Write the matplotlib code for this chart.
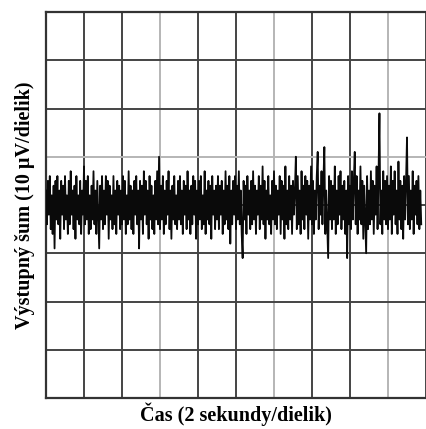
import numpy as np
import matplotlib
matplotlib.use("Agg")
import matplotlib.pyplot as plt

# output noise, microvolts (10 uV per division), sampled every 0.05 s
noise_uv = [
    3, -4, 5, -2, 6, -5, 2, -6, 4, -9, 5, -3, 6, -4, 3, -7, 5, -2, 4, -5,
    6, -3, 2, -6, 5, -4, 7, -2, 3, -5, 4, -7, 6, -3, 2, -4, 5, -6, 3, -2,
    8, -4, 5, -3, 6, -6, 2, -5, 4, -3, 7, -4, 3, -6, 5, -2, -9, 4, -3, 6,
    -5, 3, -4, 6, -2, 5, -7, 4, -3, 2, -5, 6, -4, 3, -6, 5, -2, 4, -5, 3,
    -4, 6, -3, 5, -6, 2, -4, 7, -3, 4, -5, 3, -6, 5, -2, 6, -4, 3, -9, 5,
    -3, 4, -6, 7, -2, 5, -4, 3, -7, 6, -3, 4, -5, 2, -6, 5, -3, 7, -4, 10,
    -5, 4, -3, 6, -6, 3, -4, 5, -2, 7, -5, 3, -7, 4, -3, 6, -4, 2, -5, 5,
    -3, 6, -4, 3, -6, 5, -2, 4, -5, 7, -3, 3, -6, 4, -4, 6, -2, 5, -7, 3,
    -4, 5, -3, 6, -5, 2, -4, 7, -6, 3, -3, 5, -4, 4, -7, 6, -2, 3, -5, 4,
    -3, 6, -5, 4, -2, 5, -6, 3, -4, 7, -3, 4, -5, 6, -8, 3, -4, 5, -2, 6,
    -5, 4, -3, 7, -4, 3, -6, -11, 5, -3, 4, -6, 6, -2, 3, -5, 5, -4, 7, -3,
    4, -6, 3, -2, 6, -5, 4, -3, 8, -4, 5, -7, 3, -3, 6, -4, 2, -6, 5, -3,
    7, -4, 4, -5, 3, -2, 6, -6, 5, -3, 4, -7, 8, -4, 3, -5, 6, -3, 4, -6,
    5, -2, 3, 10, -5, 6, -4, 3, -6, 7, -3, 4, -5, 6, -2, 5, -7, 4, -3, 8,
    -4, 5, -6, 3, -3, 6, 11, -5, 4, -2, 7, -4, 5, 12, -6, 3, -4, -11, 6, -3,
    5, -5, 4, -3, 8, -6, 3, -4, 6, -2, 7, -5, 4, -3, 5, -6, 3, -11, 6, -4,
    4, -5, 7, -3, 5, 11, -4, 6, -6, 3, -3, 8, -4, 5, -7, 4, -3, -10, 6, -5,
    3, -4, 7, -3, 5, -6, 4, -2, 8, -5, 6, 19, -4, 3, -6, 7, -3, 5, -4, 6,
    -5, 4, -3, 8, -6, 5, -2, 7, -4, 3, -6, 9, -3, 5, -5, 4, -7, 6, -3, 5,
    14, -4, 6, -5, 3, -3, 7, -6, 4, -2, 5, -4, 6, -5, 3, -4,
]
dt = 0.05
x_ticks = [0, 2, 4, 6, 8, 10, 12, 14, 16, 18, 20]
y_ticks = [-40, -30, -20, -10, 0, 10, 20, 30, 40]
light_x = [6, 12, 18]
light_y = [10]

t = np.arange(len(noise_uv)) * dt

fig = plt.figure(figsize=(4.26, 4.29), dpi=100)
ax = fig.add_axes([46 / 426, 31 / 429, 380 / 426, 386 / 429])

ax.plot(t, noise_uv, color="#0a0a0a", lw=1.3, zorder=3)

ax.set_xlim(0, 380 / 38.8 * 2)
ax.set_ylim(-40, 40)
ax.set_xticks(x_ticks)
ax.set_yticks(y_ticks)
ax.tick_params(length=0, labelbottom=False, labelleft=False)
ax.grid(True, color="#444444", lw=1.4, zorder=1)
for line, v in zip(ax.get_xgridlines(), x_ticks):
    if v in light_x:
        line.set_color("#b5b5b5")
for line, v in zip(ax.get_ygridlines(), y_ticks):
    if v in light_y:
        line.set_color("#b5b5b5")

ax.spines["right"].set_visible(False)
for s in ["left", "top", "bottom"]:
    ax.spines[s].set_color("#333333")
    ax.spines[s].set_linewidth(1.6)

font = dict(family="Liberation Serif", weight="bold", fontsize=14.5)
ax.set_xlabel("Čas (2 sekundy/dielik)", labelpad=3, **font)
ax.set_ylabel("Výstupný šum (10 µV/dielik)", labelpad=8, **font)

fig.savefig("out.png", dpi=100)
